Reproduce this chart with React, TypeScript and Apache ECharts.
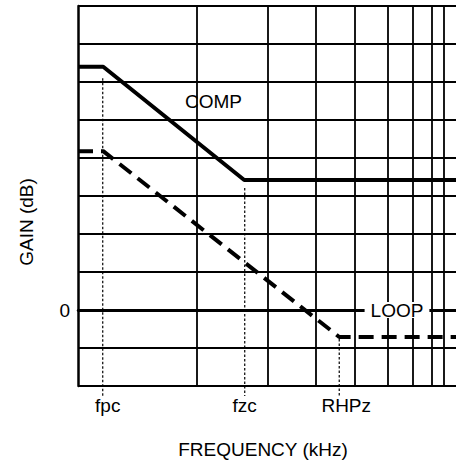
import React, { useEffect, useRef } from "react";
import * as echarts from "echarts";

// Axis ranges (x: position along the log-frequency axis, y: gain in grid divisions)
const xMin = 0;
const xMax = 382;
const yMin = -2;
const yMax = 8;

// Vertical (frequency) grid lines
const freqGridLines = [120, 192, 240, 280, 313, 338, 357, 370];

// Asymptotic curves [x, gain]
const compCurve = [
  [0, 6.4],
  [25.5, 6.4],
  [168, 3.42],
  [382, 3.42],
];
const loopCurve = [
  [0, 4.18],
  [25.5, 4.18],
  [264, -0.71],
  [382, -0.71],
];

// Corner-frequency markers
const markerNames = ["fpc", "fzc", "RHPz"];
const markerFreqs = [25, 168.5, 264];
const markerTops = [6.1, 3.21, -0.76];
const markerBottom = -2.26;

// Gain tick labels shown
const gainLabels = [0];

// Texts
const curveNames = ["COMP", "LOOP"];
const xAxisTitle = "FREQUENCY (kHz)";
const yAxisTitle = "GAIN (dB)";

const FONT = "Liberation Sans, Arial, Helvetica, sans-serif";

export default function App() {
  const ref = useRef<HTMLDivElement>(null);

  useEffect(() => {
    if (!ref.current) return;
    const chart = echarts.init(ref.current, undefined, { renderer: "svg" });

    const labelShift = [10, 0, 14];
    const rich: Record<string, any> = {};
    markerNames.forEach((_, i) => {
      rich["l" + i] = {
        fontSize: 19,
        fontFamily: FONT,
        color: "#000",
        padding: [0, 0, 0, labelShift[i]],
      };
    });

    const markerSeries = markerFreqs.map((f, i) => ({
      type: "line",
      name: markerNames[i],
      data: [
        [f, markerTops[i]],
        [f, markerBottom],
      ],
      symbol: "none",
      clip: false,
      silent: true,
      z: 1,
      lineStyle: { color: "#000", width: 1.2, type: [2.5, 2] },
    }));

    chart.setOption({
      animation: false,
      grid: { left: 78, top: 6, width: 382, height: 380 },
      xAxis: {
        type: "value",
        min: xMin,
        max: xMax,
        axisLine: { show: true, lineStyle: { color: "#000", width: 2.5 } },
        axisTick: { show: false },
        splitLine: { show: false },
        axisLabel: {
          customValues: markerFreqs,
          margin: 10,
          fontSize: 19,
          fontFamily: FONT,
          color: "#000",
          formatter: (v: number) => {
            const i = markerFreqs.indexOf(v);
            return i >= 0 ? `{l${i}|${markerNames[i]}}` : "";
          },
          rich,
        },
      },
      yAxis: {
        type: "value",
        min: yMin,
        max: yMax,
        interval: 1,
        axisLine: { show: true, lineStyle: { color: "#000", width: 2.5 } },
        axisTick: { show: false },
        splitLine: { show: true, lineStyle: { color: "#000", width: 2 } },
        axisLabel: {
          margin: 8,
          fontSize: 19,
          fontFamily: FONT,
          color: "#000",
          formatter: (v: number) => (gainLabels.includes(v) ? String(v) : ""),
        },
      },
      graphic: [
        {
          type: "text",
          x: 213.5,
          y: 101.5,
          z: 100,
          style: {
            text: curveNames[0],
            fontSize: 19,
            fontFamily: FONT,
            fill: "#000",
            textAlign: "center",
            textVerticalAlign: "middle",
          },
        },
        {
          type: "text",
          x: 397,
          y: 310,
          z: 100,
          style: {
            text: curveNames[1],
            fontSize: 19,
            fontFamily: FONT,
            fill: "#000",
            textAlign: "center",
            textVerticalAlign: "middle",
            backgroundColor: "#fff",
            padding: [0, 6],
            lineHeight: 16,
          },
        },
        {
          type: "text",
          x: 26.5,
          y: 222,
          rotation: Math.PI / 2,
          z: 100,
          style: {
            text: yAxisTitle,
            fontSize: 19,
            fontFamily: FONT,
            fill: "#000",
            textAlign: "center",
            textVerticalAlign: "middle",
          },
        },
        {
          type: "text",
          x: 263,
          y: 449,
          z: 100,
          style: {
            text: xAxisTitle,
            fontSize: 19,
            fontFamily: FONT,
            fill: "#000",
            textAlign: "center",
            textVerticalAlign: "middle",
          },
        },
      ],
      series: [
        {
          type: "line",
          name: curveNames[0],
          data: compCurve,
          symbol: "none",
          clip: false,
          silent: true,
          lineStyle: { color: "#000", width: 4 },
          markLine: {
            silent: true,
            symbol: ["none", "none"],
            label: { show: false },
            lineStyle: { color: "#000", width: 1.8, type: "solid" },
            data: [
              ...freqGridLines.map((x) => ({ xAxis: x })),
              { yAxis: 0, lineStyle: { color: "#000", width: 3, type: "solid" } },
            ],
          },
        },
        {
          type: "line",
          name: curveNames[1],
          data: loopCurve,
          symbol: "none",
          clip: false,
          silent: true,
          lineStyle: { color: "#000", width: 4, type: [15, 8] },
        },
        ...markerSeries,
      ],
    });

    return () => chart.dispose();
  }, []);

  return (
    <div
      ref={ref}
      style={{ position: "absolute", left: 0, top: 0, width: 456, height: 462, background: "#fff" }}
    />
  );
}
